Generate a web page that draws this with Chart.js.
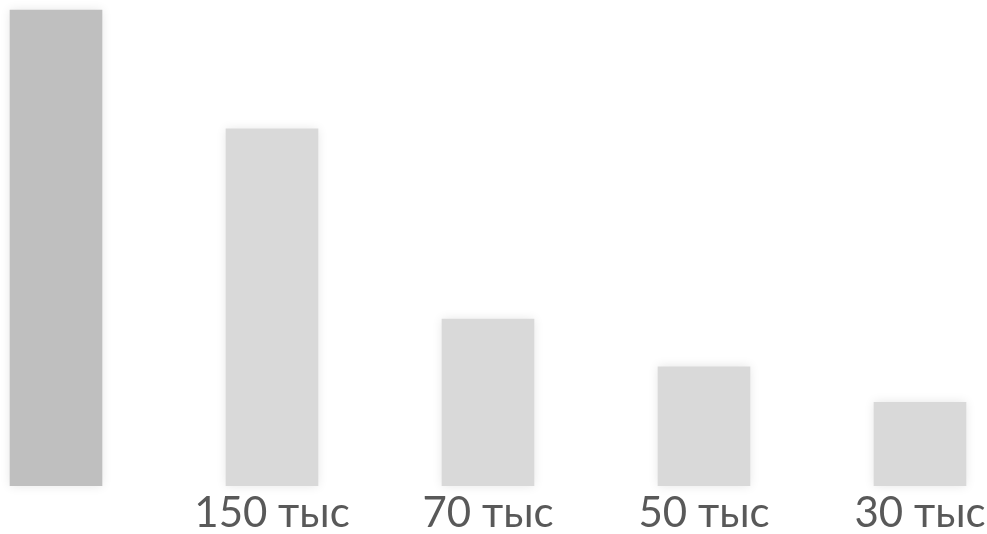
<!DOCTYPE html>
<html><head><meta charset="utf-8">
<script src="https://cdn.jsdelivr.net/npm/chart.js@4"></script>
<style>html,body{margin:0;padding:0;background:#fff;}#wrap{width:987px;height:534px;}</style>
</head><body><div id="wrap"><canvas id="c" width="987" height="534"></canvas></div>
<script>
const categories = ['', '150 тыс', '70 тыс', '50 тыс', '30 тыс'];
const values = [200, 150, 70, 50, 35];
const barColors = ['#bfbfbf', '#d9d9d9', '#d9d9d9', '#d9d9d9', '#d9d9d9'];

const shadowPlugin = {
  id: 'shadow',
  beforeDatasetsDraw(chart) {
    const ctx = chart.ctx; ctx.save();
    ctx.shadowColor = 'rgba(0,0,0,0.10)'; ctx.shadowBlur = 10; ctx.shadowOffsetX = 0; ctx.shadowOffsetY = 0;
  },
  afterDatasetsDraw(chart) { chart.ctx.restore(); }
};

new Chart(document.getElementById('c'), {
  type: 'bar',
  data: { labels: categories, datasets: [{ data: values, backgroundColor: barColors, barThickness: 92, borderWidth: 0, clip: false }] },
  options: {
    responsive: false, animation: false,
    layout: { padding: { left: 56, right: 67, top: 10, bottom: 0 } },
    plugins: { legend: { display: false }, tooltip: { enabled: false } },
    scales: {
      x: { offset: false, grid: { display: false }, border: { display: false },
           ticks: { color: '#595959', font: { family: 'Lato', size: 42, lineHeight: 0.96 }, padding: 0, maxRotation: 0, autoSkip: false } },
      y: { display: false, min: 0, max: 200 }
    }
  },
  plugins: [shadowPlugin]
});
</script></body></html>
